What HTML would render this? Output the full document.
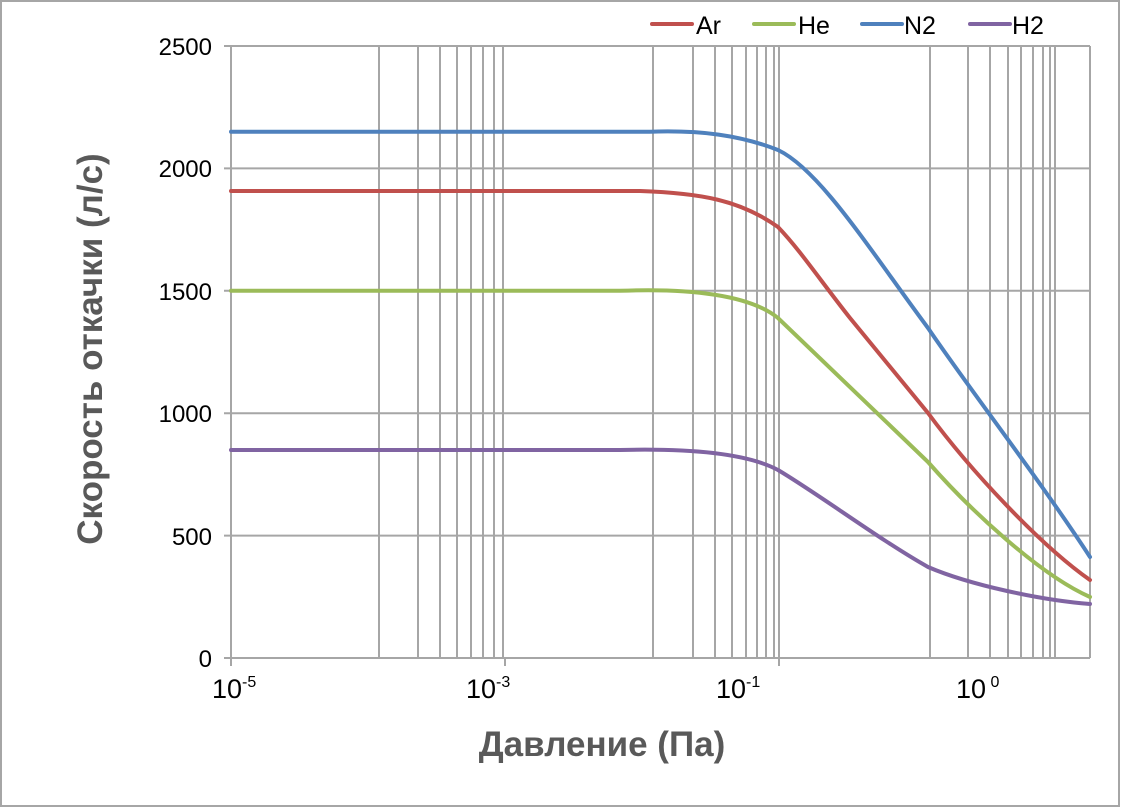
<!DOCTYPE html>
<html><head><meta charset="utf-8"><style>
body{margin:0;background:#fff;}
svg{display:block;font-family:"Liberation Sans","DejaVu Sans",sans-serif;}
</style></head><body>
<svg width="1121" height="808" viewBox="0 0 1121 808">
<rect x="1" y="1" width="1118" height="805" fill="#fff" stroke="#a6a6a6" stroke-width="2"/>
<g stroke="#a6a6a6" stroke-width="2">
<line x1="224" y1="46" x2="1090" y2="46"/>
<line x1="224" y1="168.4" x2="1090" y2="168.4"/>
<line x1="224" y1="290.8" x2="1090" y2="290.8"/>
<line x1="224" y1="413.2" x2="1090" y2="413.2"/>
<line x1="224" y1="535.6" x2="1090" y2="535.6"/>
<line x1="224" y1="658" x2="1090" y2="658"/>
<path d="M231,46V666 M379,46V658 M418,46V658 M440,46V658 M457,46V658 M471,46V658 M483,46V658 M494,46V658 M503,46V658 M505,658V666 M653,46V658 M693,46V658 M715,46V658 M732,46V658 M746,46V658 M757,46V658 M766,46V658 M774,46V658 M779,46V666 M930,46V658 M968,46V658 M990,46V658 M1008,46V658 M1021,46V658 M1033,46V658 M1043,46V658 M1050,46V658 M1055,46V658 M1090,46V658"/>
</g>
<g fill="none" stroke-width="4" stroke-linecap="round">
<path stroke="#4f81bd" d="M231,131.7 L650,131.7 C700,130 740,135 778,150 C820,170 870,250 928,328 C970,390 1040,480 1090,557"/>
<path stroke="#c0504d" d="M231,191 L640,191 C700,193 740,200 778,227 C800,250 820,280 850,318 L928,413 C970,470 1040,545 1090,580"/>
<path stroke="#9bbb59" d="M231,290.8 L620,290.8 C690,288 750,295 778,318 L928,462 C970,510 1040,575 1090,597"/>
<path stroke="#8064a2" d="M231,450 L620,450 C700,448 750,455 778,470 C820,495 880,540 928,567 C970,585 1040,600 1090,604"/>
</g>
<g font-size="24" fill="#000" text-anchor="end">
<text x="212" y="55">2500</text>
<text x="212" y="177">2000</text>
<text x="212" y="300">1500</text>
<text x="212" y="422">1000</text>
<text x="212" y="545">500</text>
<text x="212" y="667">0</text>
</g>
<g font-size="27" fill="#000">
<text x="212" y="698">10<tspan font-size="16" dy="-11">-5</tspan></text>
<text x="466" y="698">10<tspan font-size="16" dy="-11">-3</tspan></text>
<text x="716" y="698">10<tspan font-size="16" dy="-11">-1</tspan></text>
<text x="956" y="698">10<tspan font-size="16" dy="-11"> 0</tspan></text>
</g>
<text x="602" y="756" font-size="35" font-weight="bold" fill="#595959" text-anchor="middle">Давление (Па)</text>
<text transform="translate(102,349) rotate(-90)" font-size="35" font-weight="bold" fill="#595959" text-anchor="middle">Скорость  откачки (л/с)</text>
<g stroke-width="4" stroke-linecap="round">
<line x1="652" y1="24" x2="692" y2="24" stroke="#c0504d"/>
<line x1="754" y1="24" x2="794" y2="24" stroke="#9bbb59"/>
<line x1="862" y1="24" x2="902" y2="24" stroke="#4f81bd"/>
<line x1="970" y1="24" x2="1010" y2="24" stroke="#8064a2"/>
</g>
<g font-size="25" fill="#000">
<text x="696" y="34">Ar</text>
<text x="798" y="34">He</text>
<text x="904" y="34">N2</text>
<text x="1012" y="34">H2</text>
</g>
</svg>
</body></html>
